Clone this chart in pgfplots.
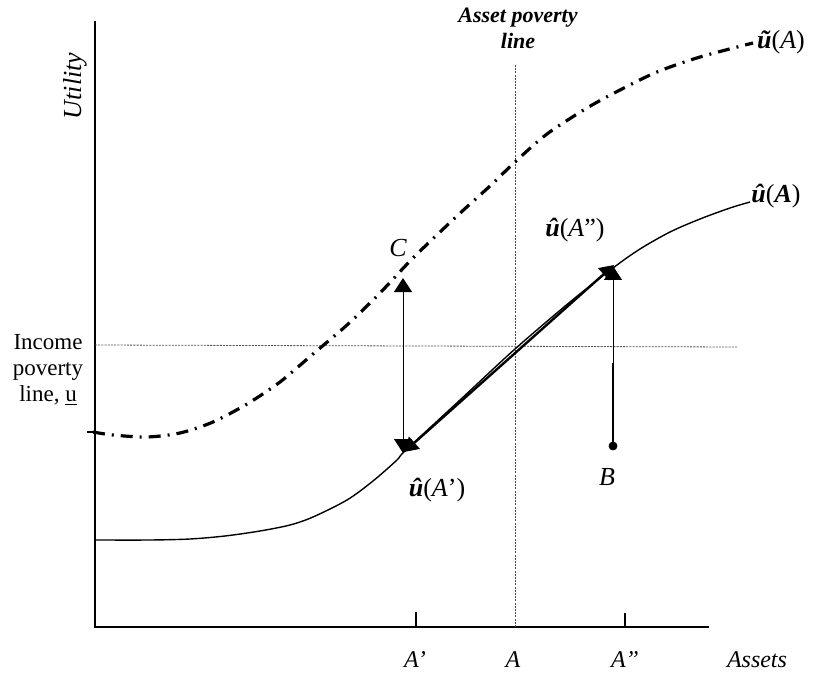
\documentclass[border=0pt]{standalone}
\usepackage{fontspec}
\setmainfont{Liberation Serif}
\usepackage{pgfplots}
\pgfplotsset{compat=1.18}
\usetikzlibrary{arrows.meta}

% curves, in picture pixels (y measured downwards)
\pgfplotstableread{
x y
95 540
150 540
190 539
225 536
260 531
290 525
313 517
347 500
373 481
397 460
405 451
460 400
515 349
570 302
613 268
640 249
670 232
700 219
730 208
750 202
}\uhat
\pgfplotstableread{
x y
93 432
113 435
147 437
180 433
213 422
247 404
280 382
313 354
347 325
380 293
413 258
457 216
490 186
515 162
547 134
587 108
620 90
657 72
700 57
753 43
}\utilde

\begin{document}
\begin{tikzpicture}
\begin{axis}[
  hide axis, scale only axis, clip=false,
  width=407.5pt, height=337pt,
  xmin=0, xmax=815, ymin=0, ymax=674, y dir=reverse,
]
% axes
\addplot[black, line width=1pt] coordinates {(95,21) (95,627) (709,627)};
\addplot[black, line width=1pt] coordinates {(87,432) (95,432)};
\addplot[black, line width=1pt] coordinates {(416,627) (416,612)};
\addplot[black, line width=1pt] coordinates {(625,627) (625,613)};
% poverty lines
\addplot[black!70, line width=0.4pt, dash pattern=on 1pt off 0.6pt] coordinates {(515,65) (515,627)};
\addplot[black!70, line width=0.4pt, dash pattern=on 1pt off 0.6pt] coordinates {(95,345) (738,347)};
% curves
\addplot[black, line width=0.7pt, smooth] table {\uhat};
\addplot[black, line width=1.6pt, smooth, dash pattern=on 6pt off 3.5pt on 1pt off 3.5pt] table {\utilde};
% arrows
\addplot[black, line width=0.5pt, {Triangle[width=9pt,length=7pt]}-{Triangle[width=9pt,length=7pt]}] coordinates {(403,453) (403,278)};
\addplot[black, line width=1.2pt, {Triangle[width=8pt,length=7pt]}-{Triangle[width=8pt,length=7pt]}] coordinates {(404,452) (614,265)};
\addplot[black, line width=0.4pt, -{Triangle[width=9pt,length=7pt]}] coordinates {(613,446) (613,266)};
\addplot[black, line width=1.3pt] coordinates {(613,363) (613,446)};
\addplot[black, only marks, mark=*, mark size=2pt] coordinates {(613,446)};
% labels
\node[align=center, font=\fontsize{11}{13}\selectfont\bfseries\itshape] at (axis cs:518,28) {Asset poverty\\line};
\node[rotate=90, font=\fontsize{13}{15}\selectfont\itshape] at (axis cs:75,86) {Utility};
\node[align=center, font=\fontsize{11.5}{13}\selectfont] at (axis cs:48,370) {Income\\poverty\\line, \underline{u}};
\node[font=\fontsize{13}{15}\selectfont] at (axis cs:781,42) {\textbf{\textit{ũ}}(\textit{A})};
\node[font=\fontsize{13}{15}\selectfont] at (axis cs:776,196) {\textbf{\textit{û}}(\textbf{\textit{A}})};
\node[font=\fontsize{13}{15}\selectfont] at (axis cs:575,230) {\textbf{\textit{û}}(\textit{A}")};
\node[font=\fontsize{13}{15}\selectfont] at (axis cs:437,490) {\textbf{\textit{û}}(\textit{A}')};
\node[font=\fontsize{13}{15}\selectfont\itshape] at (axis cs:398,248) {C};
\node[font=\fontsize{13}{15}\selectfont\itshape] at (axis cs:607,477) {B};
\node[font=\fontsize{12}{13}\selectfont\itshape] at (axis cs:415,660) {A'};
\node[font=\fontsize{12}{13}\selectfont\itshape] at (axis cs:513,660) {A};
\node[font=\fontsize{12}{13}\selectfont\itshape] at (axis cs:625,660) {A"};
\node[font=\fontsize{12}{13}\selectfont\itshape] at (axis cs:757,660) {Assets};
\end{axis}
\pgfresetboundingbox
\path (current axis.south west) rectangle (current axis.north east);
\end{tikzpicture}
\end{document}
